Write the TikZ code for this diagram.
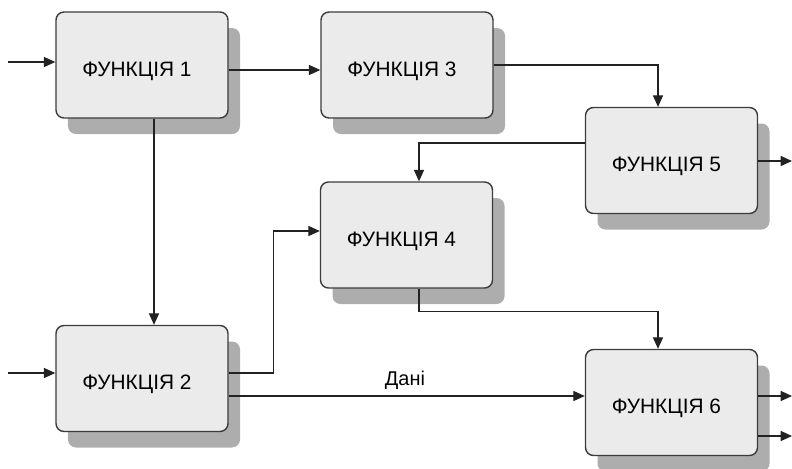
\documentclass[tikz,border=0pt]{standalone}
\usepackage{fontspec}
\setmainfont{Liberation Sans}
\usetikzlibrary{arrows.meta,shadows}
\definecolor{boxfill}{HTML}{EBEBEB}
\definecolor{boxline}{HTML}{3C3C3C}
\definecolor{boxshade}{HTML}{ADADAD}
\definecolor{wire}{HTML}{222222}
\tikzset{
  funcbox/.style={draw=boxline, line width=1.2pt, fill=boxfill, rounded corners=.24cm,
    minimum width=5.16cm, minimum height=3.18cm, inner sep=0pt,
    text height=.96cm, text depth=.3cm, execute at end node={\hspace{.3cm}},
    font=\fontsize{17.8}{21}\selectfont,
    drop shadow={shadow xshift=.36cm, shadow yshift=-.48cm, fill=boxshade, opacity=1}},
  flow/.style={draw=wire, line width=.9pt, -{Triangle[length=.34cm,width=.3cm]}}
}
\begin{document}
\begin{tikzpicture}[x=.03cm, y=-.03cm]
\useasboundingbox (0,0) rectangle (792,468);
\node[funcbox] (f1) at (142,65) {ФУНКЦІЯ 1};
\node[funcbox] (f3) at (407,65) {ФУНКЦІЯ 3};
\node[funcbox] (f5) at (671.5,160.5) {ФУНКЦІЯ 5};
\node[funcbox] (f4) at (406.5,235) {ФУНКЦІЯ 4};
\node[funcbox] (f2) at (142,378.5) {ФУНКЦІЯ 2};
\node[funcbox] (f6) at (671.5,402.5) {ФУНКЦІЯ 6};
% free ends
\coordinate (in1) at (8,62);
\coordinate (in2) at (8,373);
\coordinate (out5) at (792,161);
\coordinate (out6a) at (792,396);
\coordinate (out6b) at (792,436);
% inputs and outputs
\draw[flow] (in1) -- (in1 -| f1.west);
\draw[flow] (in2) -- (in2 -| f2.west);
\draw[flow] (out5 -| f5.east) -- (out5);
\draw[flow] (out6a -| f6.east) -- (out6a);
\draw[flow] (out6b -| f6.east) -- (out6b);
% links between functions
\draw[flow] ([yshift=-.15cm]f1.east) -- ([yshift=-.15cm]f3.west);
\draw[flow] ([xshift=.36cm]f1.south) -- ([xshift=.36cm]f2.north);
\draw[flow] (f3.east) -| ([xshift=-.405cm]f5.north);
\draw[flow] ([yshift=.525cm]f5.west) -| ([xshift=.375cm]f4.north);
\draw[flow] ([yshift=.165cm]f2.east) -- ++(1.35cm,0) |- ([yshift=.12cm]f4.west);
\draw[flow] ([xshift=.375cm]f4.south) -- ++(0,-.69cm) -| ([xshift=-.405cm]f6.north);
\draw[flow] ([yshift=-.525cm]f2.east) -- ([yshift=-.525cm]f2.east -| f6.west)
  node[pos=.495, above=2pt, font=\fontsize{17}{20}\selectfont] {Дані};
\end{tikzpicture}
\end{document}
